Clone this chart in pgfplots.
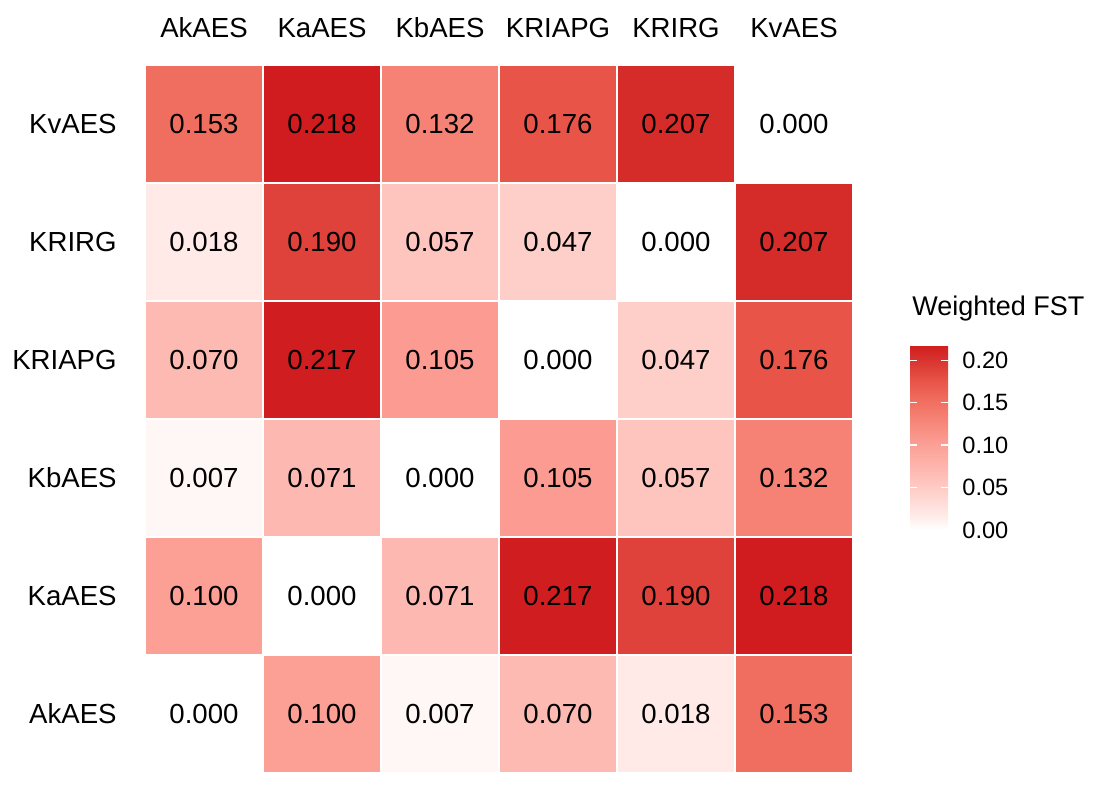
\documentclass[border=0pt]{standalone}
\usepackage{pgfplots}
\usepackage{pgfplotstable}
\pgfplotsset{compat=1.18}
\usepackage{fontspec}
\setmainfont{Liberation Sans}
\pgfplotsset{/pgf/number format/assume math mode=true}

\pgfplotstableread{
x y z lab
0.5 0.5 0.000 0.000
1.5 0.5 0.100 0.100
2.5 0.5 0.007 0.007
3.5 0.5 0.070 0.070
4.5 0.5 0.018 0.018
5.5 0.5 0.153 0.153
0.5 1.5 0.100 0.100
1.5 1.5 0.000 0.000
2.5 1.5 0.071 0.071
3.5 1.5 0.217 0.217
4.5 1.5 0.190 0.190
5.5 1.5 0.218 0.218
0.5 2.5 0.007 0.007
1.5 2.5 0.071 0.071
2.5 2.5 0.000 0.000
3.5 2.5 0.105 0.105
4.5 2.5 0.057 0.057
5.5 2.5 0.132 0.132
0.5 3.5 0.070 0.070
1.5 3.5 0.217 0.217
2.5 3.5 0.105 0.105
3.5 3.5 0.000 0.000
4.5 3.5 0.047 0.047
5.5 3.5 0.176 0.176
0.5 4.5 0.018 0.018
1.5 4.5 0.190 0.190
2.5 4.5 0.057 0.057
3.5 4.5 0.047 0.047
4.5 4.5 0.000 0.000
5.5 4.5 0.207 0.207
0.5 5.5 0.153 0.153
1.5 5.5 0.218 0.218
2.5 5.5 0.132 0.132
3.5 5.5 0.176 0.176
4.5 5.5 0.207 0.207
5.5 5.5 0.000 0.000
}\fstdata

\begin{document}
\begin{tikzpicture}
\useasboundingbox (0,0) rectangle (550.5bp,395bp);
\begin{axis}[
  at={(72.5bp,8.5bp)}, anchor=south west,
  scale only axis, width=354bp, height=354bp,
  xmin=0, xmax=6, ymin=0, ymax=6,
  axis line style={draw=none},
  major tick length=0pt,
  tick style={draw=none},
  xtick={0.5,1.5,2.5,3.5,4.5,5.5},
  ytick={0.5,1.5,2.5,3.5,4.5,5.5},
  xticklabels={AkAES,KaAES,KbAES,KRIAPG,KRIRG,KvAES},
  yticklabels={AkAES,KaAES,KbAES,KRIAPG,KRIRG,KvAES},
  xticklabel pos=upper,
  xticklabel style={anchor=base, inner sep=0pt, yshift=13.5bp, font=\fontsize{13.8bp}{16bp}\selectfont},
  yticklabel style={anchor=east, inner sep=0pt, xshift=-14bp, font=\fontsize{13.8bp}{16bp}\selectfont},
  colormap={ggreds}{rgb255(0)=(255,255,255) rgb255(18)=(255,234,231) rgb255(57)=(254,197,190) rgb255(100)=(252,160,150) rgb255(153)=(240,110,95) rgb255(176)=(232,84,72) rgb255(190)=(222,66,58) rgb255(218)=(208,28,30)},
  point meta min=0, point meta max=0.218,
  colorbar,
  colorbar/width=19bp,
  colorbar style={
    scale only axis,
    width=19bp, height=92.5bp,
    at={(parent axis.north east)}, anchor=north west,
    xshift=20bp, yshift=-140bp,
    axis line style={draw=none},
    axis on top,
    ytick={0,0.05,0.1,0.15,0.2},
    yticklabel pos=right,
    tick align=inside,
    major tick length=19bp,
    tick style={white, line width=0.7bp, dash pattern=on 3.6bp off 11.8bp on 3.6bp},
    yticklabel style={anchor=west, inner sep=0pt, xshift=7bp,
      font=\fontsize{11.8bp}{14bp}\selectfont,
      /pgf/number format/.cd, fixed, fixed zerofill, precision=2},
    title={Weighted FST},
    title style={at={(0,1)}, anchor=base west, inner sep=0pt, xshift=1bp, yshift=9bp,
      font=\fontsize{13.5bp}{16bp}\selectfont},
  },
]
\addplot[scatter, only marks, mark=square*, mark size=29.5bp,
  scatter/use mapped color={draw=white, fill=mapped color},
  mark options={line width=1bp},
  point meta=explicit] table[x=x, y=y, meta=z] {\fstdata};
\addplot[only marks, mark=none, draw=none,
  point meta=explicit symbolic,
  nodes near coords, nodes near coords align=center,
  nodes near coords style={anchor=center, inner sep=0pt, text=black, font=\fontsize{13.8bp}{16bp}\selectfont}]
  table[x=x, y=y, meta=lab] {\fstdata};
\end{axis}
\end{tikzpicture}
\end{document}
